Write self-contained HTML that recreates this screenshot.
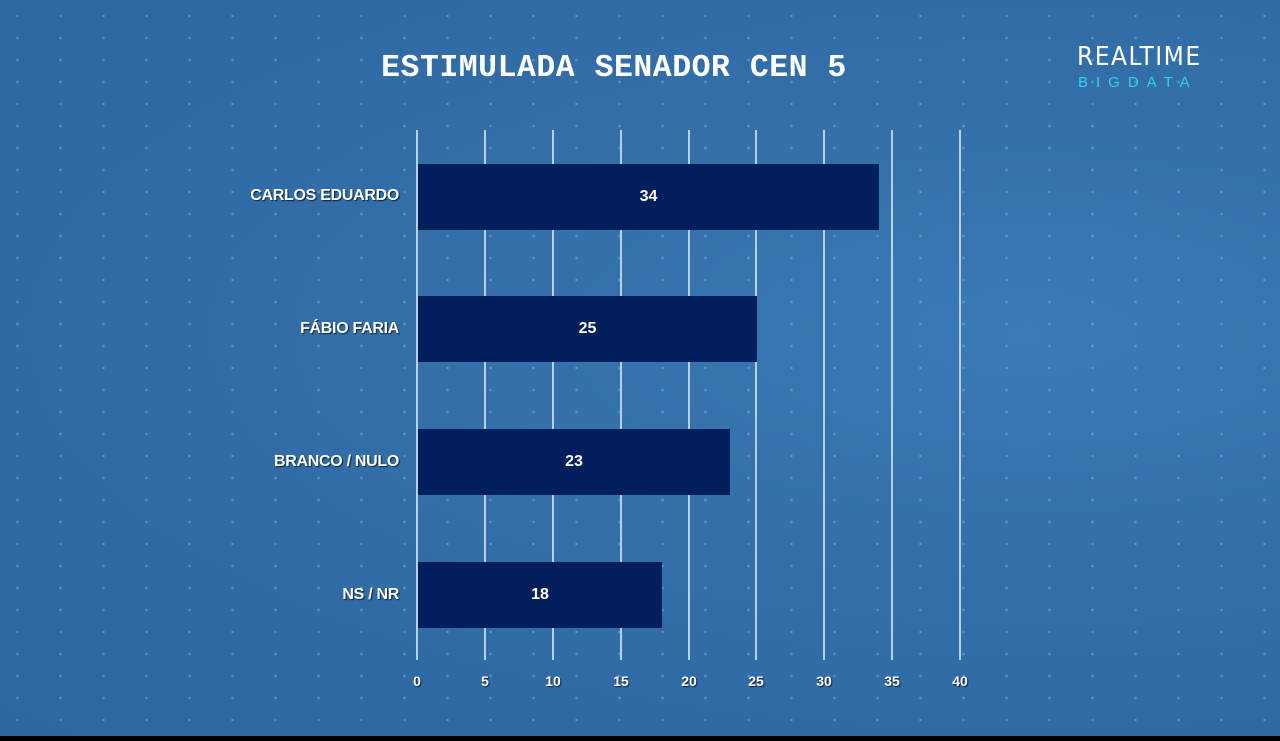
<!DOCTYPE html>
<html><head><style>
html,body{margin:0;padding:0}
body{width:1280px;height:741px;position:relative;overflow:hidden;font-family:"Liberation Sans",sans-serif;
background:radial-gradient(ellipse at 80% 45%,#3a7ab5 0%,#336fa9 40%,#2d66a0 100%);}
.dots{position:absolute;left:0;top:0;width:1280px;height:736px;
background-image:radial-gradient(circle,rgba(170,200,230,0.4) 1px,transparent 1.6px);
background-size:43px 22px;background-position:-4px 5px;}
.title{position:absolute;left:0;width:1228px;top:51px;text-align:center;color:#fff;font-family:"Liberation Mono",monospace;font-weight:bold;font-size:31.5px;letter-spacing:0.5px}
.grid{position:absolute;top:130px;height:530px;width:2px;background:#b9cfe6}
.bar{position:absolute;left:418px;height:66px;background:#001f5c;color:#fff;font-weight:bold;font-size:16px;text-align:center;line-height:66px}
.lab{position:absolute;right:881px;color:#fff;font-weight:bold;font-size:16px;text-shadow:1px 1px 1px #123;letter-spacing:-0.3px}
.tick{position:absolute;top:673px;width:40px;margin-left:-20px;text-align:center;color:#fff;font-weight:bold;font-size:14px;text-shadow:1px 1px 1px #123}
.logo1{position:absolute;left:1077px;top:42px;color:#fff;font-size:26px;letter-spacing:1.5px;font-family:"DejaVu Sans Condensed","Liberation Sans",sans-serif}
.logo2{position:absolute;left:1078px;top:74px;color:#2fd4f0;font-size:15px;letter-spacing:8px}
.black{position:absolute;left:0;top:736px;width:1280px;height:5px;background:#000}
</style></head><body>
<div class="dots"></div>
<div class="title">ESTIMULADA SENADOR CEN 5</div>
<div class="logo1">REALTIME</div>
<div class="logo2">BIGDATA</div>
<div class="grid" style="left:416px"></div>
<div class="grid" style="left:484px"></div>
<div class="grid" style="left:552px"></div>
<div class="grid" style="left:620px"></div>
<div class="grid" style="left:688px"></div>
<div class="grid" style="left:755px"></div>
<div class="grid" style="left:823px"></div>
<div class="grid" style="left:891px"></div>
<div class="grid" style="left:959px"></div>
<div class="bar" style="top:164px;width:461px">34</div>
<div class="bar" style="top:296px;width:339px">25</div>
<div class="bar" style="top:429px;width:312px">23</div>
<div class="bar" style="top:562px;width:244px">18</div>
<div class="lab" style="top:187px">CARLOS EDUARDO</div>
<div class="lab" style="top:320px">FÁBIO FARIA</div>
<div class="lab" style="top:453px">BRANCO / NULO</div>
<div class="lab" style="top:586px">NS / NR</div>
<div class="tick" style="left:417px">0</div>
<div class="tick" style="left:485px">5</div>
<div class="tick" style="left:553px">10</div>
<div class="tick" style="left:621px">15</div>
<div class="tick" style="left:689px">20</div>
<div class="tick" style="left:756px">25</div>
<div class="tick" style="left:824px">30</div>
<div class="tick" style="left:892px">35</div>
<div class="tick" style="left:960px">40</div>
<div class="black"></div>
</body></html>
